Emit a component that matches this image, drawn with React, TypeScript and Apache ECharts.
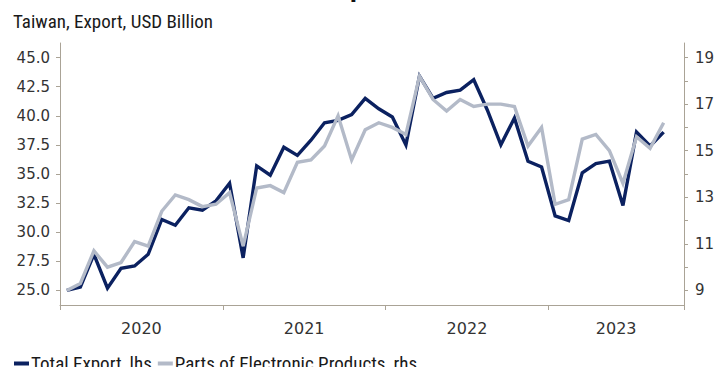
import React, { useEffect, useRef } from "react";
import * as echarts from "echarts";

// Monthly categories Jan 2020 – Oct 2023
const years = [2020, 2021, 2022, 2023];
const months = ["01", "02", "03", "04", "05", "06", "07", "08", "09", "10", "11", "12"];
const categories: string[] = [];
for (const y of years) for (const m of months) if (!(y === 2023 && Number(m) > 10)) categories.push(`${y}-${m}`);

// Total Export, USD bn (lhs)
const totalExport = [
  25.0, 25.3, 28.1, 25.2, 26.9, 27.1, 28.1, 31.1, 30.6, 32.1, 31.9, 32.7,
  34.2, 27.8, 35.7, 34.9, 37.3, 36.6, 37.9, 39.4, 39.6, 40.1, 41.5, 40.6,
  39.9, 37.5, 43.4, 41.5, 42.0, 42.2, 43.1, 40.5, 37.5, 39.8, 36.1, 35.6,
  31.4, 31.0, 35.1, 35.9, 36.1, 32.3, 38.6, 37.4, 38.6, null,
];
// Parts of Electronic Products, USD bn (rhs)
const electronicParts = [
  9.0, 9.3, 10.7, 10.0, 10.2, 11.1, 10.9, 12.4, 13.1, 12.9, 12.6, 12.7,
  13.2, 10.9, 13.4, 13.5, 13.2, 14.5, 14.6, 15.2, 16.5, 14.6, 15.9, 16.2,
  16.0, 15.7, 18.2, 17.2, 16.7, 17.2, 16.9, 17.0, 17.0, 16.9, 15.2, 16.0,
  12.7, 12.9, 15.5, 15.7, 15.0, 13.6, 15.6, 15.1, 16.2, null,
];

const leftTicks = [25, 27.5, 30, 32.5, 35, 37.5, 40, 42.5, 45];
const rightLabels = [9, 11, 13, 15, 17, 19];
const rightTicks = [9, 10, 11, 12, 13, 14, 15, 16, 17, 18, 19];
const yearBoundaries = [0, 12, 24, 36, 46];
const yearCenters = [6, 18, 30, 41];
const yearLabels = ["2020", "2021", "2022", "2023"];

const AXIS_COLOR = "#aaa396";
const LABEL_COLOR = "#333333";
const NUM_FONT = "'DejaVu Sans', Verdana, sans-serif";
const TEXT_FONT = "'Liberation Sans Narrow', 'Roboto Condensed', 'Liberation Sans', sans-serif";

export default function App() {
  const ref = useRef<HTMLDivElement>(null);
  useEffect(() => {
    if (!ref.current) return;
    const chart = echarts.init(ref.current, null, { renderer: "svg" });
    chart.setOption({
      animation: false,
      backgroundColor: "#ffffff",
      title: [
        {
          text: "Export",
          left: "center",
          top: -33,
          textStyle: { fontFamily: "'Liberation Sans', sans-serif", fontSize: 28, fontWeight: "bold", color: "#111" },
        },
        {
          text: "Taiwan, Export, USD Billion",
          left: 8,
          top: 7,
          textStyle: { fontFamily: TEXT_FONT, fontSize: 19, fontWeight: "normal", color: "#1a1a1a" },
        },
      ],
      legend: {
        left: 9,
        top: 349,
        itemWidth: 15,
        itemHeight: 4,
        itemGap: 6,
        icon: "rect",
        textStyle: { fontFamily: TEXT_FONT, fontSize: 19, color: "#1a1a1a", padding: [0, 0, 0, -3] },
        data: ["Total Export, lhs", "Parts of Electronic Products, rhs"],
      },
      grid: { left: 60, right: 35, top: 43, bottom: 62, containLabel: false },
      xAxis: [
        {
          type: "category",
          data: categories,
          boundaryGap: true,
          show: false,
        },
        {
          type: "value",
          min: 0,
          max: 46,
          position: "bottom",
          axisLine: { show: true, lineStyle: { color: AXIS_COLOR, width: 1 } },
          axisTick: { show: true, length: 5, customValues: yearBoundaries, lineStyle: { color: AXIS_COLOR } },
          axisLabel: {
            customValues: yearCenters,
            formatter: (v: number) => yearLabels[yearCenters.indexOf(v)] ?? "",
            fontFamily: NUM_FONT,
            fontSize: 16,
            color: LABEL_COLOR,
            margin: 15,
          },
          splitLine: { show: false },
        },
      ],
      yAxis: [
        {
          type: "value",
          min: 23.75,
          max: 46.25,
          position: "left",
          axisLine: { show: true, lineStyle: { color: AXIS_COLOR, width: 1 } },
          axisTick: { show: true, length: 4, customValues: leftTicks, lineStyle: { color: AXIS_COLOR } },
          axisLabel: {
            customValues: leftTicks,
            formatter: (v: number) => v.toFixed(1),
            fontFamily: NUM_FONT,
            fontSize: 15,
            color: LABEL_COLOR,
            margin: 10,
          },
          splitLine: { show: false },
        },
        {
          type: "value",
          min: 8.375,
          max: 19.625,
          position: "right",
          axisLine: { show: true, lineStyle: { color: AXIS_COLOR, width: 1 } },
          axisTick: { show: true, length: 4, customValues: rightTicks, lineStyle: { color: AXIS_COLOR } },
          axisLabel: {
            customValues: rightLabels,
            fontFamily: NUM_FONT,
            fontSize: 15,
            color: LABEL_COLOR,
            margin: 11,
          },
          splitLine: { show: false },
        },
      ],
      series: [
        {
          name: "Total Export, lhs",
          type: "line",
          xAxisIndex: 0,
          yAxisIndex: 0,
          data: totalExport,
          showSymbol: false,
          symbol: "none",
          lineStyle: { color: "#0b2160", width: 3.4, join: "miter" },
          itemStyle: { color: "#0b2160" },
        },
        {
          name: "Parts of Electronic Products, rhs",
          type: "line",
          xAxisIndex: 0,
          yAxisIndex: 1,
          data: electronicParts,
          showSymbol: false,
          symbol: "none",
          lineStyle: { color: "#b3bac8", width: 3.4, join: "miter" },
          itemStyle: { color: "#b3bac8" },
        },
      ],
    });
    return () => chart.dispose();
  }, []);
  return <div ref={ref} style={{ width: 719, height: 367, position: "fixed", left: 0, top: 0 }} />;
}
